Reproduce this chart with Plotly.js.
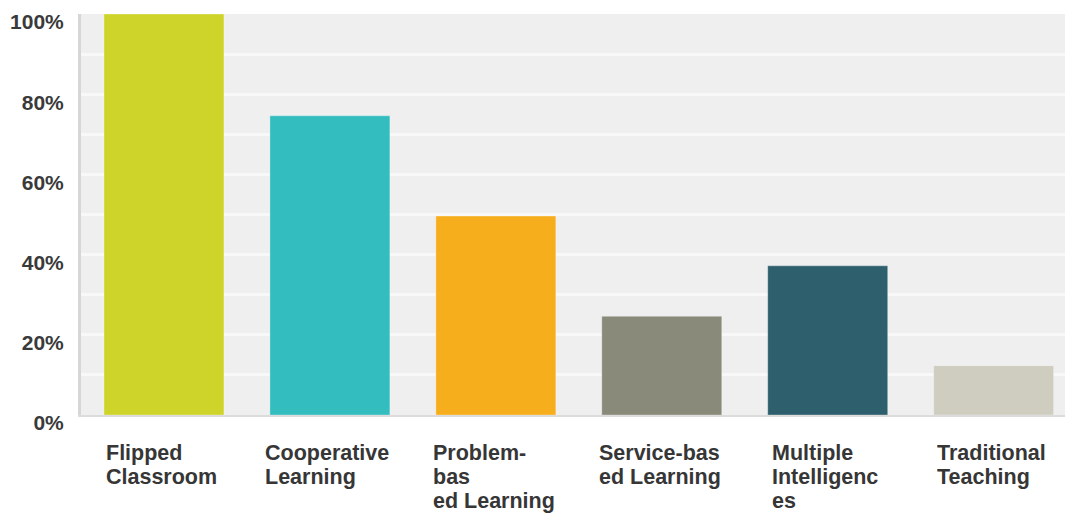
<!DOCTYPE html>
<html>
<head>
<meta charset="utf-8">
<script src="https://cdn.plot.ly/plotly-3.0.1.min.js"></script>
<style>html,body{margin:0;padding:0;background:#fff;}#chart{width:1065px;height:513px;}</style>
</head>
<body>
<div id="chart"></div>
<script>
const categories = ["Flipped Classroom", "Cooperative Learning", "Problem-based Learning", "Service-based Learning", "Multiple Intelligences", "Traditional Teaching"];
const labelLines = [
  ["Flipped", "Classroom"],
  ["Cooperative", "Learning"],
  ["Problem-", "bas", "ed Learning"],
  ["Service-bas", "ed Learning"],
  ["Multiple", "Intelligenc", "es"],
  ["Traditional", "Teaching"]
];
const values = [100, 74.6, 49.6, 24.6, 37.2, 12.3];
const colors = ["#cfd42a", "#33bdbf", "#f7ae1d", "#8a8a7a", "#2e5f6c", "#cfcdc0"];
const tickVals = [0, 20, 40, 60, 80, 100];
const tickText = ["0%", "20%", "40%", "60%", "80%", "100%"];

const FONT = "Liberation Sans, Arial, sans-serif";
const FS = 21.5;
const canvas = document.createElement("canvas");
const ctx = canvas.getContext("2d");
ctx.font = "bold " + FS + "px 'Liberation Sans', Arial, sans-serif";

const annotations = [];
labelLines.forEach((lines, i) => {
  const w = Math.max(...lines.map(l => ctx.measureText(l).width));
  lines.forEach((line, k) => {
    annotations.push({
      x: categories[i], xref: "x", y: 0, yref: "paper",
      xanchor: "center", yanchor: "middle",
      width: Math.ceil(w) + 4, align: "left",
      text: "<b>" + line + "</b>",
      showarrow: false,
      yshift: -38 - 24 * k,
      font: {family: FONT, size: FS, color: "#363636"}
    });
  });
});

const trace = {
  type: "bar",
  x: categories,
  y: values,
  marker: {color: colors, line: {color: "rgba(255,255,255,0.3)", width: 1}},
  hoverinfo: "none"
};

const layout = {
  width: 1065, height: 513,
  margin: {l: 81, r: 0, t: 14, b: 98, pad: 0},
  paper_bgcolor: "#ffffff",
  plot_bgcolor: "#efefef",
  bargap: 0.277,
  showlegend: false,
  xaxis: {
    type: "category",
    range: [-0.5, 5.43],
    showticklabels: false,
    showgrid: false,
    zeroline: false,
    showline: true, linecolor: "#dcdcdc", linewidth: 2,
    fixedrange: true
  },
  yaxis: {
    range: [0, 100],
    tickvals: tickVals,
    ticktext: tickText.map(t => "<b>" + t + "</b>"),
    tickfont: {family: FONT, size: 21, color: "#3a3a3a"},
    ticklabelshift: 8,
    ticklabelstandoff: 10,
    ticklabeloverflow: "allow",
    showgrid: true, gridcolor: "#f8f8f8", gridwidth: 3,
    minor: {dtick: 10, tick0: 0, showgrid: true, gridcolor: "#f8f8f8", gridwidth: 3},
    zeroline: false,
    showline: true, linecolor: "#d6d6d6", linewidth: 3,
    ticks: "",
    fixedrange: true
  },
  annotations: annotations
};

Plotly.newPlot("chart", [trace], layout, {displayModeBar: false, staticPlot: true});
</script>
</body>
</html>
